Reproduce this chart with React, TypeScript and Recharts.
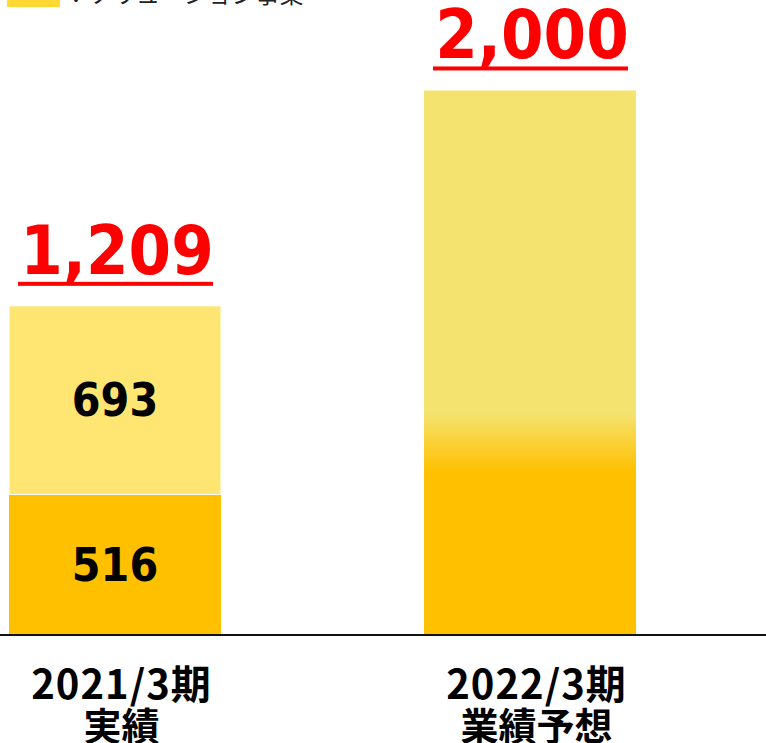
import React from 'react';
import { BarChart, Bar, XAxis, YAxis, LabelList } from 'recharts';

// values
const categories = ['2021/3期', '2022/3期'];
const subLabels = ['実績', '業績予想'];
const lowerValues = [516, null];
const upperValues = [693, null];
const forecastValues = [null, 2000];
const totals = [1209, 2000];
const legendLabel = '：ソリューション事業';

const data = categories.map((c, i) => ({
  name: c,
  sub: subLabels[i],
  lower: lowerValues[i],
  upper: upperValues[i],
  forecast: forecastValues[i],
  total: totals[i],
}));

const numFont = "'DejaVu Sans Condensed', 'DejaVu Sans', sans-serif";
const jpFont = "'Noto Sans CJK JP', 'Noto Sans', sans-serif";

const CategoryTick = (props: any) => {
  const { x, y, payload, index } = props;
  return (
    <g>
      <text x={x + 7} y={y + 64} textAnchor="middle" fontFamily={jpFont} fontWeight={700} fontSize={40} letterSpacing={1} fill="#000">
        {payload.value}
      </text>
      <text x={x + 7} y={y + 105} textAnchor="middle" fontFamily={jpFont} fontWeight={700} fontSize={38} fill="#000">
        {subLabels[index]}
      </text>
    </g>
  );
};

const TotalLabel = (props: any) => {
  const vb = props.viewBox || props;
  const { x, y, width, height } = vb;
  if (props.value == null || !height || Math.abs(height) < 1) return null;
  const cx = x + width / 2;
  const top = Math.min(y, y + height);
  return (
    <g>
      <text x={cx + 2} y={top - 32} textAnchor="middle" fontFamily={numFont} fontStretch="condensed" fontWeight={700} fontSize={68} fill="#FF0000">
        {Number(props.value).toLocaleString('en-US')}
      </text>
      <rect x={cx - 97} y={top - 24} width={195} height={4} fill="#FF0000" />
    </g>
  );
};

export default function App() {
  return (
    <div style={{ position: 'absolute', left: 0, top: 0, width: 766, height: 743, overflow: 'hidden', background: '#fff' }}>
      <BarChart width={766} height={743} data={data} margin={{ top: 36, right: 0, bottom: 78, left: 0 }}>
        <defs>
          <linearGradient id="forecastFill" x1="0" y1="0" x2="0" y2="1">
            <stop offset="0" stopColor="#F5E36F" />
            <stop offset="0.592" stopColor="#F5E36F" />
            <stop offset="0.70" stopColor="#FFC000" />
            <stop offset="1" stopColor="#FFC000" />
          </linearGradient>
        </defs>
        <YAxis hide domain={[0, 2200]} />
        <XAxis
          dataKey="name"
          height={30}
          padding={{ left: -93, right: 29 }}
          axisLine={{ stroke: '#111', strokeWidth: 2 }}
          tickLine={false}
          tickSize={0}
          tickMargin={0}
          interval={0}
          tick={<CategoryTick />}
        />
        <Bar dataKey="lower" stackId="a" fill="#FFC000" barSize={212} isAnimationActive={false}>
          <LabelList dataKey="lower" position="center" fill="#000" fontSize={46} fontWeight={700} fontFamily={numFont} />
        </Bar>
        <Bar dataKey="upper" stackId="a" fill="#FFE571" stroke="#fff" strokeWidth={1} barSize={212} isAnimationActive={false}>
          <LabelList dataKey="upper" position="center" fill="#000" fontSize={46} fontWeight={700} fontFamily={numFont} />
          <LabelList dataKey="total" content={<TotalLabel />} />
        </Bar>
        <Bar dataKey="forecast" stackId="a" fill="url(#forecastFill)" barSize={213} isAnimationActive={false}>
          <LabelList dataKey="total" content={<TotalLabel />} />
        </Bar>
      </BarChart>
      <svg width={766} height={20} style={{ position: 'absolute', left: 0, top: 0 }}>
        <rect x={7} y={0} width={53} height={7} fill="#FFD932" />
        <text x={64} y={3} fontFamily={jpFont} fontSize={24} fill="#222">
          {legendLabel}
        </text>
      </svg>
    </div>
  );
}
